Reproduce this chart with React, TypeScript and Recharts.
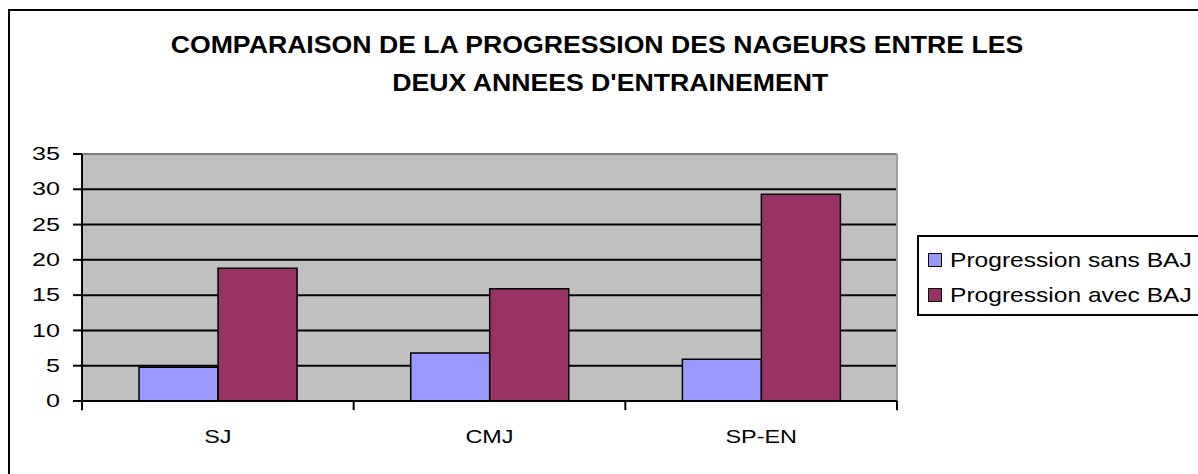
import React from 'react';
import {
  BarChart,
  Bar,
  XAxis,
  YAxis,
  CartesianGrid,
  Legend,
  ReferenceLine,
} from 'recharts';

const categories = ['SJ', 'CMJ', 'SP-EN'];
const sansBaj = [4.8, 6.8, 5.9];
const avecBaj = [18.8, 15.9, 29.3];
const yTicks = [0, 5, 10, 15, 20, 25, 30, 35];

const SERIES = [
  { key: 'sans', name: 'Progression sans BAJ', color: '#9999FF' },
  { key: 'avec', name: 'Progression avec BAJ', color: '#993366' },
];

const data = categories.map((cat, i) => ({
  cat,
  sans: sansBaj[i],
  avec: avecBaj[i],
}));

const FONT = '"Liberation Sans", Arial, sans-serif';

// the source image is stretched sideways, so text is widened a bit
function StretchTick(props: any) {
  const { x, y, payload, textAnchor, sx = 1.35 } = props;
  return (
    <text
      transform={`translate(${x},${y}) scale(${sx},1)`}
      textAnchor={textAnchor}
      fontSize={18}
      fontFamily={FONT}
      fill="#000"
      dominantBaseline="central"
    >
      {payload.value}
    </text>
  );
}

// legend drawn as an Excel-style box
function LegendBox() {
  return (
    <div
      style={{
        border: '2px solid #000',
        background: '#fff',
        padding: '5px 0 5px 9px',
        width: 290,
        height: 81,
        boxSizing: 'border-box',
        fontFamily: FONT,
        fontSize: 21,
        color: '#000',
      }}
    >
      {SERIES.map((s) => (
        <div key={s.key} style={{ display: 'flex', alignItems: 'center', height: 35 }}>
          <span
            style={{
              width: 12,
              height: 12,
              background: s.color,
              border: '1.5px solid #000',
              marginRight: 8,
              display: 'inline-block',
              flexShrink: 0,
            }}
          />
          <span style={{ display: 'inline-block', transform: 'scaleX(1.17)', transformOrigin: 'left center', whiteSpace: 'nowrap' }}>
            {s.name}
          </span>
        </div>
      ))}
    </div>
  );
}

export default function App() {
  const last = categories[categories.length - 1];
  return (
    <div style={{ position: 'fixed', left: 0, top: 0, width: 1198, height: 474, background: '#fff', overflow: 'hidden' }}>
      <div
        style={{
          position: 'absolute',
          left: 8,
          top: 9,
          width: 1200,
          height: 480,
          borderLeft: '2px solid #000',
          borderTop: '2px solid #000',
        }}
      />
      <div
        style={{
          position: 'absolute',
          left: 0,
          top: 26,
          width: 1198,
          textAlign: 'center',
          fontFamily: FONT,
          fontWeight: 'bold',
          fontSize: 24,
          lineHeight: '38px',
          color: '#000',
          transform: 'scaleX(1.11)',
          transformOrigin: '597px 0',
        }}
      >
        <div style={{ marginLeft: -4 }}>COMPARAISON DE LA PROGRESSION DES NAGEURS ENTRE LES</div>
        <div style={{ marginLeft: 20 }}>DEUX ANNEES D'ENTRAINEMENT</div>
      </div>
      <div style={{ position: 'absolute', left: 0, top: 0 }}>
        <BarChart
          width={1198}
          height={474}
          data={data}
          margin={{ top: 154, right: 301, bottom: 0, left: 22 }}
          barGap={0}
          barCategoryGap="21%"
        >
          <CartesianGrid vertical={false} stroke="#000" strokeWidth={2} fill="#C0C0C0" fillOpacity={1} />
          <XAxis
            dataKey="cat"
            axisLine={{ stroke: '#000', strokeWidth: 2 }}
            tickLine={false}
            tick={<StretchTick sx={1.3} />}
            tickSize={0}
            tickMargin={36}
            height={73}
          />
          <YAxis
            domain={[0, 35]}
            ticks={yTicks}
            interval={0}
            width={60}
            axisLine={{ stroke: '#000', strokeWidth: 2 }}
            tickLine={{ stroke: '#000', strokeWidth: 2 }}
            tickSize={9}
            tick={<StretchTick sx={1.4} />}
            tickMargin={13}
          />
          <ReferenceLine y={35} stroke="#808080" strokeWidth={2} />
          <ReferenceLine x={last} position="end" stroke="#A0A0A0" strokeWidth={2} />
          {/* category boundary ticks below the x axis */}
          {categories.map((c) => (
            <ReferenceLine
              key={c}
              position="start"
              segment={[{ x: c, y: 0 }, { x: c, y: -1.3 }]}
              stroke="#000"
              strokeWidth={2}
              ifOverflow="visible"
            />
          ))}
          <ReferenceLine
            position="end"
            segment={[{ x: last, y: 0 }, { x: last, y: -1.3 }]}
            stroke="#000"
            strokeWidth={2}
            ifOverflow="visible"
          />
          {SERIES.map((s) => (
            <Bar
              key={s.key}
              dataKey={s.key}
              name={s.name}
              fill={s.color}
              stroke="#000"
              strokeWidth={1.5}
              isAnimationActive={false}
            />
          ))}
          <Legend
            content={<LegendBox />}
            align="center"
            verticalAlign="middle"
            layout="horizontal"
            wrapperStyle={{ position: 'absolute', left: 917, top: 235, width: 290 }}
          />
        </BarChart>
      </div>
    </div>
  );
}
